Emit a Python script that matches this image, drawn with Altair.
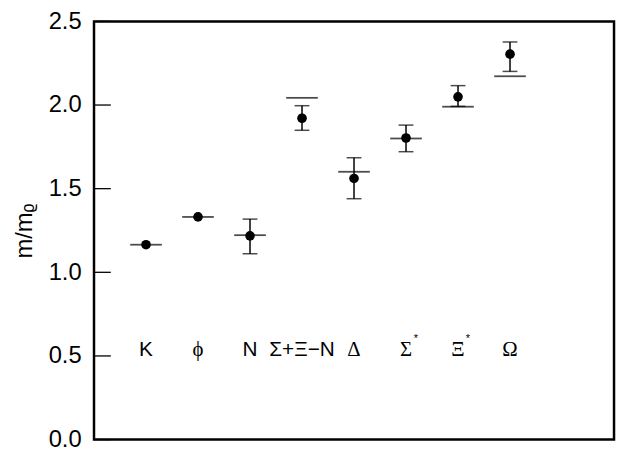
import altair as alt
import pandas as pd

# ---- data ----
names  = ["K", "ϕ", "N", "Σ+Ξ−N", "Δ", "Σ", "Ξ", "Ω"]
sups   = ["", "", "", "", "", "*", "*", ""]
serif  = [False, True, False, False, True, True, True, True]
xpos   = [1, 2, 3, 4, 5, 6, 7, 8]
lattice = [1.165, 1.331, 1.218, 1.921, 1.561, 1.803, 2.049, 2.304]
err_lo  = [None, None, 1.111, 1.849, 1.440, 1.721, 1.992, 2.201]
err_hi  = [None, None, 1.318, 1.996, 1.685, 1.880, 2.116, 2.377]
expt    = [1.165, 1.331, 1.222, 2.043, 1.601, 1.800, 1.990, 2.172]
label_y = 0.535
yticks  = [0.0, 0.5, 1.0, 1.5, 2.0, 2.5]

df = pd.DataFrame({"x": xpos, "name": names, "sup": sups, "serif": serif,
                   "m": lattice, "lo": err_lo, "hi": err_hi, "exp": expt})
df["ly"] = label_y
err_df = df.dropna(subset=["lo", "hi"])
tick_df = pd.DataFrame({"t": yticks})

xs = alt.Scale(domain=[0, 10], nice=False, zero=False)
ys = alt.Scale(domain=[0, 2.5], nice=False)
X = alt.X("x:Q", scale=xs, axis=None)

base = alt.Chart(df)

ticks_in = alt.Chart(tick_df).mark_rule(color="black", strokeWidth=1.3).encode(
    y=alt.Y("t:Q", scale=ys,
            axis=alt.Axis(values=yticks, format=".1f", ticks=False, domain=False,
                          grid=False, labelFont="Liberation Sans", labelFontSize=24,
                          labelColor="black", labelPadding=13,
                          title="m/mᵨ", titleFont="Liberation Sans",
                          titleFontSize=24, titleFontWeight="normal",
                          titleColor="black", titlePadding=12)),
    x=alt.value(0), x2=alt.value(17))

exp_lines = base.mark_tick(orient="horizontal", color="black", size=32,
                           thickness=1.8).encode(x=X, y=alt.Y("exp:Q", scale=ys))

err_rule = alt.Chart(err_df).mark_rule(color="black", strokeWidth=1.5).encode(
    x=X, y=alt.Y("lo:Q", scale=ys), y2="hi:Q")
cap_lo = alt.Chart(err_df).mark_tick(orient="horizontal", color="black", size=15,
                                     thickness=1.5).encode(x=X, y=alt.Y("lo:Q", scale=ys))
cap_hi = alt.Chart(err_df).mark_tick(orient="horizontal", color="black", size=15,
                                     thickness=1.5).encode(x=X, y=alt.Y("hi:Q", scale=ys))

pts = base.mark_point(filled=True, shape="circle", size=95, color="black",
                      opacity=1).encode(x=X, y=alt.Y("m:Q", scale=ys))

lab_sans = base.transform_filter("!datum.serif").mark_text(
    font="Liberation Sans", fontSize=21, color="black", baseline="middle").encode(
    x=X, y=alt.Y("ly:Q", scale=ys), text="name:N")
lab_serif = base.transform_filter("datum.serif").mark_text(
    font="Liberation Serif", fontSize=21, color="black", baseline="middle").encode(
    x=X, y=alt.Y("ly:Q", scale=ys), text="name:N")
lab_sup = base.transform_filter("datum.sup != ''").mark_text(
    font="Liberation Sans", fontSize=11, color="black", baseline="middle",
    dx=10, dy=-11).encode(x=X, y=alt.Y("ly:Q", scale=ys), text="sup:N")

chart = alt.layer(ticks_in, exp_lines, err_rule, cap_lo, cap_hi, pts,
                  lab_sans, lab_serif, lab_sup).properties(
    width=526, height=423,
    autosize=alt.AutoSizeParams(type="none"),
    padding={"left": 87, "top": 11, "right": 2, "bottom": 9},
).configure_view(stroke="black", strokeWidth=2.5)

chart.save("out.html", embed_options={"renderer": "svg", "actions": False})
